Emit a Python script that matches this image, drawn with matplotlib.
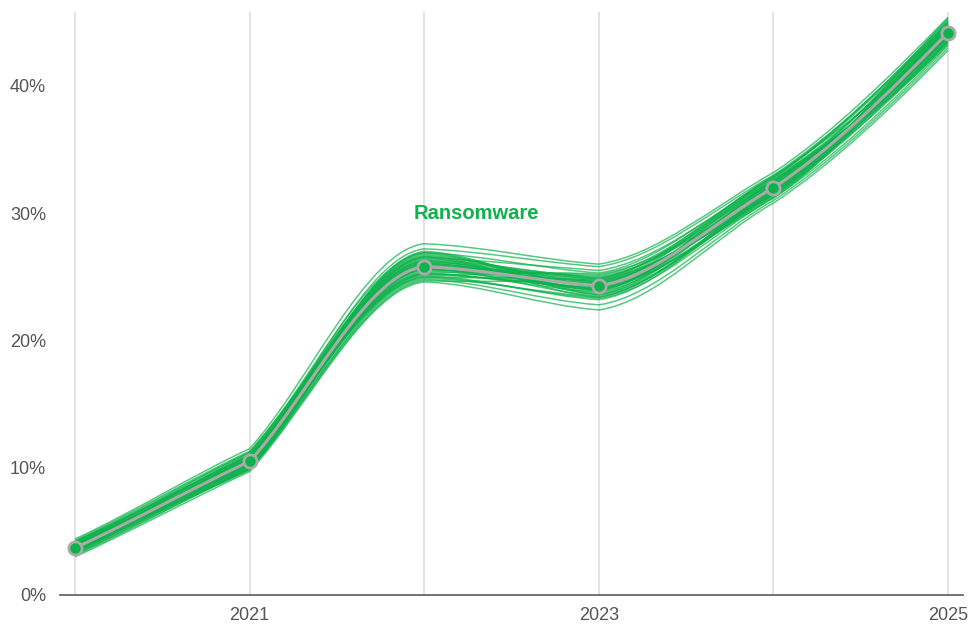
import matplotlib
matplotlib.use("Agg")
import matplotlib.pyplot as plt
import numpy as np
from matplotlib.path import Path
from matplotlib.patches import PathPatch
from matplotlib.ticker import FuncFormatter

# ─── Data ─────────────────────────────────────────────────────────────────────
years = [2020, 2021, 2022, 2023, 2024, 2025]
median = [3.7, 10.5, 25.8, 24.3, 32.0, 44.2]

# rate of change (pts / year) entering and leaving each point
slope_in = [6.3, 6.4, 1.5, -1.0, 7.7, 14.0]
slope_out = [6.3, 15.0, -0.5, 2.0, 9.0, 14.0]

# individual sample curves
samples = [
    [3.9, 10.8, 26.4, 24.9, 32.4, 44.8],
    [3.5, 10.2, 25.3, 23.8, 31.6, 43.7],
    [4.2, 11.2, 26.9, 25.3, 32.8, 45.2],
    [3.2, 9.9, 25.0, 23.3, 31.2, 43.2],
    [3.8, 10.6, 26.1, 24.0, 32.2, 44.5],
    [3.6, 10.4, 25.6, 24.6, 31.9, 43.9],
    [4.0, 10.9, 27.2, 25.8, 33.0, 45.0],
    [3.4, 10.0, 24.8, 22.8, 31.0, 43.0],
    [3.7, 10.7, 26.6, 23.6, 31.5, 44.0],
    [3.9, 10.3, 25.4, 25.1, 32.6, 44.6],
    [4.4, 11.5, 27.6, 26.0, 33.2, 45.4],
    [3.0, 9.7, 24.6, 22.4, 30.8, 42.8],
    [3.6, 10.5, 26.0, 24.4, 32.1, 44.3],
    [3.8, 10.1, 25.2, 24.1, 31.8, 44.1],
    [3.5, 10.8, 26.3, 23.9, 32.3, 43.8],
    [4.1, 11.0, 25.9, 24.7, 31.7, 44.9],
    [3.3, 10.4, 26.8, 24.2, 32.5, 43.5],
    [3.7, 9.8, 24.7, 24.5, 32.0, 44.4],
    [4.0, 10.6, 25.7, 23.5, 31.4, 44.7],
    [3.6, 11.1, 26.5, 25.5, 32.7, 43.6],
    [3.9, 10.2, 25.5, 24.0, 31.3, 44.2],
    [3.4, 10.7, 26.2, 24.8, 32.9, 45.1],
    [3.8, 10.3, 25.1, 23.2, 31.6, 43.4],
    [4.2, 10.9, 26.7, 24.3, 32.2, 44.0],
    [3.5, 10.5, 25.8, 25.0, 31.9, 44.6],
    [3.7, 10.0, 27.0, 23.7, 32.4, 43.9],
    [4.3, 11.3, 25.6, 24.6, 31.5, 45.3],
    [3.1, 9.9, 26.3, 24.9, 32.6, 43.3],
    [3.9, 10.6, 24.9, 23.4, 31.8, 44.8],
    [3.6, 10.4, 26.1, 24.2, 32.1, 44.1],
    [4.1, 10.1, 26.6, 24.5, 31.6, 44.5],
    [3.3, 10.9, 25.3, 24.0, 32.4, 44.0],
    [4.0, 11.2, 25.9, 23.9, 32.8, 44.9],
    [3.4, 9.9, 26.0, 24.8, 31.4, 43.6],
    [3.9, 10.4, 26.9, 23.6, 32.2, 45.0],
    [3.5, 10.6, 25.2, 25.2, 31.9, 43.5],
    [4.2, 10.7, 26.2, 24.4, 32.9, 44.3],
    [3.2, 10.2, 25.6, 24.1, 31.2, 44.7],
    [3.8, 11.0, 25.0, 24.7, 32.5, 43.8],
    [3.6, 10.0, 26.5, 23.4, 31.7, 44.4],
]

GREEN = "#0db24b"
GRAY = "#aaaaaa"
TEXT = "#555555"

plt.rcParams["font.family"] = ["Liberation Sans", "DejaVu Sans"]


def hermite_path(xs, ys, t_in, t_out):
    """Cubic bezier path through the points with the given side tangents."""
    verts = [(xs[0], ys[0])]
    codes = [Path.MOVETO]
    for i in range(len(xs) - 1):
        dx = (xs[i + 1] - xs[i]) / 3
        verts += [(xs[i] + dx, ys[i] + dx * t_out[i]),
                  (xs[i + 1] - dx, ys[i + 1] - dx * t_in[i + 1]),
                  (xs[i + 1], ys[i + 1])]
        codes += [Path.CURVE4] * 3
    return Path(verts, codes)


fig = plt.figure(figsize=(9.71, 6.24), dpi=100)
ax = fig.add_axes([0.0618, 0.0465, 0.930, 0.934])

for row in samples:
    ax.add_patch(PathPatch(hermite_path(years, row, slope_in, slope_out),
                           facecolor="none", edgecolor=GREEN, lw=1.1,
                           alpha=0.7, zorder=3))

ax.add_patch(PathPatch(hermite_path(years, median, slope_in, slope_out),
                       facecolor="none", edgecolor=GRAY, lw=2.2, zorder=4))
ax.plot(years, median, linestyle="none", marker="o", markersize=9.5,
        markerfacecolor=GREEN, markeredgecolor=GRAY, markeredgewidth=2, zorder=5)

ax.text(2022.30, 30.0, "Ransomware", color=GREEN, fontsize=14.5,
        fontweight="bold", ha="center", va="center", zorder=6)

ax.set_xlim(2019.914, 2025.086)
ax.set_ylim(0, 45.8)

ax.set_xticks(years)
ax.set_xticklabels(["" if y % 2 == 0 else str(y) for y in years])
ax.set_yticks([0, 10, 20, 30, 40])
ax.yaxis.set_major_formatter(FuncFormatter(lambda v, _: f"{v:.0f}%"))
ax.tick_params(axis="both", length=0, labelsize=13, labelcolor=TEXT)
ax.tick_params(axis="y", pad=10)
ax.tick_params(axis="x", pad=9)

ax.grid(axis="x", color="#dddddd", lw=1.2)
ax.grid(axis="y", visible=False)
ax.set_axisbelow(True)
for side in ["top", "right", "left"]:
    ax.spines[side].set_visible(False)
ax.spines["bottom"].set_color("#666666")
ax.spines["bottom"].set_linewidth(1.3)

fig.savefig("out.png", dpi=100, facecolor="white")
